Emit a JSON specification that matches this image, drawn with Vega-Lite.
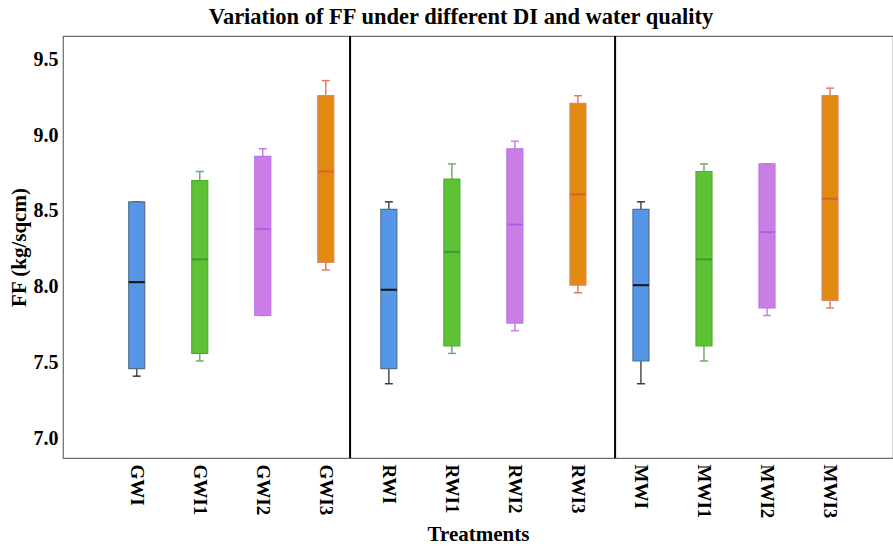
{
  "$schema": "https://vega.github.io/schema/vega-lite/v6.json",
  "autosize": {"type": "none"},
  "width": 830,
  "height": 422,
  "padding": {"left": 63, "top": 36, "right": 0, "bottom": 88},
  "background": "white",
  "config": {
    "view": {"stroke": "#6b6b6b", "strokeWidth": 1.2},
    "font": "Liberation Serif",
    "tick": {"opacity": 1}
  },
  "title": {
    "text": "Variation of FF under different DI and water quality",
    "font": "Liberation Serif",
    "fontSize": 22.5,
    "fontWeight": "bold",
    "color": "#000000",
    "offset": 7,
    "dx": -17
  },
  "datasets": {
    "boxes": [
      {"treatment": "GWI", "level": "I", "min": 7.41, "q1": 7.46, "median": 8.03, "q3": 8.56, "max": 8.56},
      {"treatment": "GWI1", "level": "I1", "min": 7.51, "q1": 7.56, "median": 8.18, "q3": 8.70, "max": 8.76},
      {"treatment": "GWI2", "level": "I2", "min": 7.81, "q1": 7.81, "median": 8.38, "q3": 8.86, "max": 8.91},
      {"treatment": "GWI3", "level": "I3", "min": 8.11, "q1": 8.16, "median": 8.76, "q3": 9.26, "max": 9.36},
      {"treatment": "RWI", "level": "I", "min": 7.36, "q1": 7.46, "median": 7.98, "q3": 8.51, "max": 8.56},
      {"treatment": "RWI1", "level": "I1", "min": 7.56, "q1": 7.61, "median": 8.23, "q3": 8.71, "max": 8.81},
      {"treatment": "RWI2", "level": "I2", "min": 7.71, "q1": 7.76, "median": 8.41, "q3": 8.91, "max": 8.96},
      {"treatment": "RWI3", "level": "I3", "min": 7.96, "q1": 8.01, "median": 8.61, "q3": 9.21, "max": 9.26},
      {"treatment": "MWI", "level": "I", "min": 7.36, "q1": 7.51, "median": 8.01, "q3": 8.51, "max": 8.56},
      {"treatment": "MWI1", "level": "I1", "min": 7.51, "q1": 7.61, "median": 8.18, "q3": 8.76, "max": 8.81},
      {"treatment": "MWI2", "level": "I2", "min": 7.81, "q1": 7.86, "median": 8.36, "q3": 8.81, "max": 8.81},
      {"treatment": "MWI3", "level": "I3", "min": 7.86, "q1": 7.91, "median": 8.58, "q3": 9.26, "max": 9.31}
    ],
    "separators": [
      {"treatment": "GWI3"},
      {"treatment": "RWI3"}
    ]
  },
  "encoding": {
    "x": {
      "field": "treatment",
      "type": "nominal",
      "sort": null,
      "scale": {
        "domain": ["GWI", "GWI1", "GWI2", "GWI3", "RWI", "RWI1", "RWI2", "RWI3", "MWI", "MWI1", "MWI2", "MWI3"],
        "paddingInner": 0,
        "paddingOuter": 0.5844,
        "align": 0.573
      },
      "axis": {
        "title": "Treatments",
        "labelAngle": 90,
        "labelFont": "Liberation Serif",
        "labelFontSize": 19,
        "labelFontWeight": "bold",
        "labelColor": "#000000",
        "labelPadding": 6,
        "ticks": false,
        "domain": false,
        "grid": false,
        "titleFont": "Liberation Serif",
        "titleFontSize": 21,
        "titleFontWeight": "bold",
        "titleColor": "#000000",
        "titlePadding": 6
      }
    }
  },
  "layer": [
    {
      "data": {"name": "boxes"},
      "mark": {"type": "rule", "strokeWidth": 1.5},
      "encoding": {
        "y": {
          "field": "min",
          "type": "quantitative",
          "scale": {"domain": [6.87, 9.654], "nice": false, "zero": false},
          "axis": {
            "title": "FF (kg/sqcm)",
            "values": [7.0, 7.5, 8.0, 8.5, 9.0, 9.5],
            "format": ".1f",
            "labelFont": "Liberation Serif",
            "labelFontSize": 20,
            "labelFontWeight": "bold",
            "labelColor": "#000000",
            "labelPadding": 5,
            "ticks": false,
            "grid": false,
            "domain": false,
            "titleFont": "Liberation Serif",
            "titleFontSize": 21,
            "titleFontWeight": "bold",
            "titleColor": "#000000",
            "titlePadding": 4
          }
        },
        "y2": {"field": "max"},
        "stroke": {
          "field": "level",
          "type": "nominal",
          "scale": {"domain": ["I", "I1", "I2", "I3"], "range": ["#4d4d4d", "#6aae6a", "#c67ff0", "#e57b62"]},
          "legend": null
        }
      }
    },
    {
      "data": {"name": "boxes"},
      "mark": {"type": "tick", "size": 8, "thickness": 1.5},
      "encoding": {
        "y": {"field": "min", "type": "quantitative"},
        "color": {
          "field": "level",
          "type": "nominal",
          "scale": {"domain": ["I", "I1", "I2", "I3"], "range": ["#3a3a3a", "#6aae6a", "#c67ff0", "#e57b62"]},
          "legend": null
        }
      }
    },
    {
      "data": {"name": "boxes"},
      "mark": {"type": "tick", "size": 8, "thickness": 1.5},
      "encoding": {
        "y": {"field": "max", "type": "quantitative"},
        "color": {
          "field": "level",
          "type": "nominal",
          "scale": {"domain": ["I", "I1", "I2", "I3"], "range": ["#3a3a3a", "#6aae6a", "#c67ff0", "#e57b62"]},
          "legend": null
        }
      }
    },
    {
      "data": {"name": "boxes"},
      "mark": {"type": "bar", "size": 16, "strokeWidth": 1.2, "fillOpacity": 1},
      "encoding": {
        "y": {"field": "q1", "type": "quantitative"},
        "y2": {"field": "q3"},
        "fill": {
          "field": "level",
          "type": "nominal",
          "scale": {"domain": ["I", "I1", "I2", "I3"], "range": ["#5597e6", "#5dc236", "#ca7ee3", "#e08a10"]},
          "legend": null
        },
        "stroke": {
          "field": "level",
          "type": "nominal",
          "scale": {"domain": ["I", "I1", "I2", "I3"], "range": ["#51708f", "#4fae2e", "#c070f0", "#e5826a"]},
          "legend": null
        }
      }
    },
    {
      "data": {"name": "boxes"},
      "mark": {"type": "tick", "size": 16, "thickness": 2},
      "encoding": {
        "y": {"field": "median", "type": "quantitative"},
        "color": {
          "field": "level",
          "type": "nominal",
          "scale": {"domain": ["I", "I1", "I2", "I3"], "range": ["#111111", "#3f9a2b", "#b25ce8", "#d9622b"]},
          "legend": null
        }
      }
    },
    {
      "data": {"name": "separators"},
      "transform": [{"filter": "datum.treatment === 'GWI3'"}],
      "mark": {"type": "rule", "color": "#000000", "strokeWidth": 2},
      "encoding": {
        "x": {"field": "treatment", "type": "nominal", "bandPosition": 0.885}
      }
    },
    {
      "data": {"name": "separators"},
      "transform": [{"filter": "datum.treatment === 'RWI3'"}],
      "mark": {"type": "rule", "color": "#000000", "strokeWidth": 2},
      "encoding": {
        "x": {"field": "treatment", "type": "nominal", "bandPosition": 1.09}
      }
    }
  ],
  "resolve": {"scale": {"stroke": "independent", "fill": "independent", "color": "independent"}}
}
